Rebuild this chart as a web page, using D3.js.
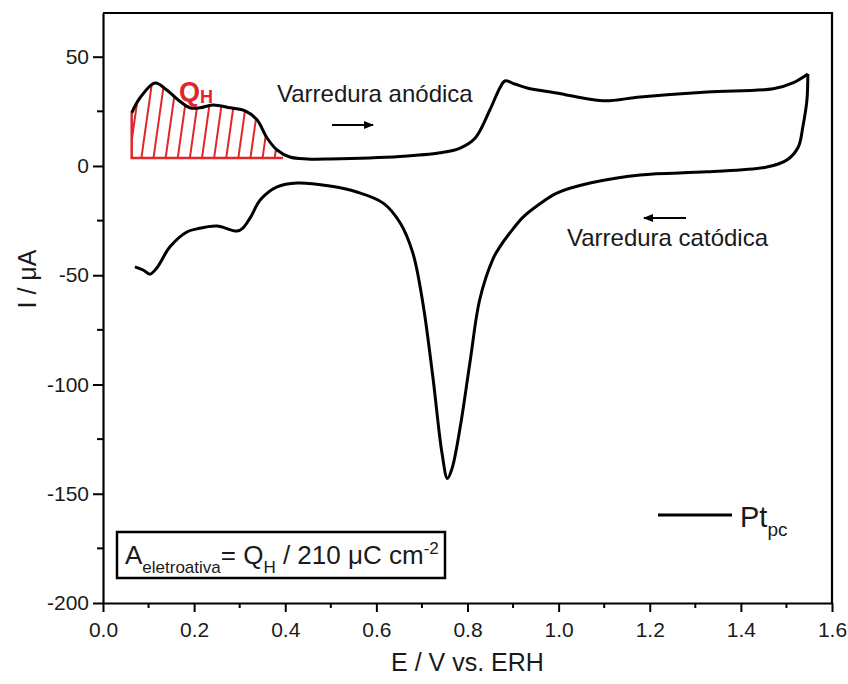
<!DOCTYPE html>
<html>
<head>
<meta charset="utf-8">
<script src="https://cdn.jsdelivr.net/npm/d3@7"></script>
<style>
  body { margin: 0; background: #fff; }
  svg { font-family: "Liberation Sans", Arial, sans-serif; }
</style>
</head>
<body>
<div id="chart"></div>
<script>
// anodic sweep (E in V vs ERH, I in uA)
var anodicE = [0.063, 0.081, 0.114, 0.140, 0.165, 0.191, 0.213, 0.241, 0.279, 0.312, 0.338, 0.360, 0.382, 0.410, 0.448, 0.498,
               0.652, 0.740, 0.784, 0.817, 0.849, 0.871, 0.882, 0.904, 0.931, 0.996, 1.097, 1.179, 1.326, 1.471, 1.514, 1.547];
var anodicI = [24.3, 31.1, 38.0, 34.8, 30.2, 26.6, 26.6, 27.9, 26.6, 25.2, 21.1, 12.8, 7.3, 4.1, 3.2, 3.2,
               4.3, 6.0, 8.2, 12.8, 25.6, 35.7, 38.9, 37.5, 35.7, 33.4, 29.8, 31.6, 33.9, 35.3, 38.0, 42.1];

// cathodic sweep
var cathodicE = [1.547, 1.545, 1.536, 1.526, 1.501, 1.457, 1.326, 1.179, 1.069, 0.996, 0.959, 0.922, 0.900, 0.871, 0.856,
                 0.827, 0.806, 0.784, 0.766, 0.756, 0.744, 0.724, 0.702, 0.680, 0.652, 0.615, 0.557, 0.498, 0.426,
                 0.382, 0.345, 0.324, 0.307, 0.294, 0.250, 0.206, 0.184, 0.147, 0.118, 0.103, 0.088, 0.070];
var cathodicI = [42.1, 30.2, 17.9, 8.7, 2.7, -0.5, -2.7, -4.1, -7.8, -12.4, -17.3, -23.4, -28.8, -37.0, -42.5,
                 -61.0, -89.0, -119.5, -138.5, -143.0, -131.4, -96.6, -62.7, -39.8, -26.0, -17.0, -11.9, -9.2, -7.8,
                 -9.6, -15.6, -23.4, -28.4, -29.8, -27.5, -28.8, -30.2, -37.0, -46.7, -49.5, -47.6, -46.2];

// hydrogen desorption charge region
var qhBase = 3.7;
var qhRange = [0.063, 0.395];

var xTicks = [0, 0.2, 0.4, 0.6, 0.8, 1.0, 1.2, 1.4, 1.6];
var xMinor = [0.1, 0.3, 0.5, 0.7, 0.9, 1.1, 1.3, 1.5];
var yTicks = [50, 0, -50, -100, -150, -200];
var yMinor = [25, -25, -75, -125, -175];

var width = 848, height = 684;
var mLeft = 103, mRight = 832, mTop = 13, mBottom = 603;
var red = '#e0262b';
var ink = '#1a1a1a';

var svg = d3.select('#chart').append('svg')
    .attr('width', width)
    .attr('height', height);

var x = d3.scaleLinear().domain([0, 1.6]).range([mLeft, mRight]);
var y = d3.scaleLinear().domain([-200, 70]).range([mBottom, mTop]);

function zipPts(es, is) {
    return es.map(function(e, k) { return [e, is[k]]; });
}
var anodic = zipPts(anodicE, anodicI);
var cathodic = zipPts(cathodicE, cathodicI);

// hatch pattern for Q_H
var defs = svg.append('defs');
defs.append('pattern')
    .attr('id', 'hatch')
    .attr('patternUnits', 'userSpaceOnUse')
    .attr('width', 12)
    .attr('height', 12)
    .attr('patternTransform', 'rotate(8)')
  .append('line')
    .attr('x1', 6).attr('y1', -1)
    .attr('x2', 6).attr('y2', 13)
    .attr('stroke', red)
    .attr('stroke-width', 2);

var qhPts = anodic.filter(function(d) { return d[0] <= qhRange[1]; });
var area = d3.area()
    .x(function(d) { return x(d[0]); })
    .y0(y(qhBase))
    .y1(function(d) { return y(d[1]); })
    .curve(d3.curveCatmullRom.alpha(0.5));

svg.append('path')
    .datum(qhPts)
    .attr('d', area)
    .attr('fill', 'url(#hatch)');

// left edge + baseline of hatched region
svg.append('path')
    .attr('d', 'M' + x(qhRange[0]) + ',' + y(anodic[0][1]) + 'L' + x(qhRange[0]) + ',' + y(qhBase) + 'L' + x(qhRange[1]) + ',' + y(qhBase))
    .attr('fill', 'none')
    .attr('stroke', red)
    .attr('stroke-width', 2.5);

// axes
var xAxis = svg.append('g').attr('transform', 'translate(0,' + mBottom + ')');
xAxis.call(d3.axisBottom(x).tickValues(xTicks).tickFormat(d3.format('.1f')).tickSize(9).tickSizeOuter(0).tickPadding(10));
xAxis.append('g').selectAll('line').data(xMinor).enter().append('line')
    .attr('x1', function(d) { return x(d); }).attr('x2', function(d) { return x(d); })
    .attr('y1', 0).attr('y2', 5).attr('stroke', '#000').attr('stroke-width', 2);

var yAxis = svg.append('g').attr('transform', 'translate(' + mLeft + ',0)');
yAxis.call(d3.axisLeft(y).tickValues(yTicks).tickFormat(function(d) { return String(d); })
    .tickSize(10).tickSizeOuter(0).tickPadding(4));
yAxis.append('g').selectAll('line').data(yMinor).enter().append('line')
    .attr('y1', function(d) { return y(d); }).attr('y2', function(d) { return y(d); })
    .attr('x1', 0).attr('x2', -6).attr('stroke', '#000').attr('stroke-width', 2);

svg.selectAll('.domain').attr('stroke', '#000').attr('stroke-width', 2.2);
svg.selectAll('.tick line').attr('stroke', '#000').attr('stroke-width', 2);
svg.selectAll('.tick text').attr('font-size', 21).attr('fill', ink)
    .attr('font-family', '"Liberation Sans", Arial, sans-serif');

// frame top/right
svg.append('path')
    .attr('d', 'M' + mLeft + ',' + mTop + 'L' + mRight + ',' + mTop + 'L' + mRight + ',' + mBottom)
    .attr('fill', 'none').attr('stroke', '#000').attr('stroke-width', 2.2);

// CV curve
var line = d3.line()
    .x(function(d) { return x(d[0]); })
    .y(function(d) { return y(d[1]); })
    .curve(d3.curveCatmullRom.alpha(0.5));

[anodic, cathodic].forEach(function(pts) {
    svg.append('path')
        .datum(pts)
        .attr('d', line)
        .attr('fill', 'none')
        .attr('stroke', '#000')
        .attr('stroke-width', 3)
        .attr('stroke-linejoin', 'round');
});

// Q_H label
var qh = svg.append('text').attr('x', 179).attr('y', 101).attr('fill', red).attr('font-weight', 'bold');
qh.append('tspan').attr('font-size', 27).text('Q');
qh.append('tspan').attr('font-size', 18).attr('dy', 2).text('H');

// sweep labels and arrows
defs.append('marker')
    .attr('id', 'arrow')
    .attr('viewBox', '0 0 10 10')
    .attr('refX', 9).attr('refY', 5)
    .attr('markerWidth', 5).attr('markerHeight', 5)
    .attr('markerUnits', 'strokeWidth')
    .attr('orient', 'auto')
  .append('path')
    .attr('d', 'M0,1L10,5L0,9z')
    .attr('fill', '#000');

svg.append('text').attr('x', 277).attr('y', 102).attr('font-size', 24).attr('fill', ink).text('Varredura anódica');
svg.append('line').attr('x1', 332).attr('y1', 125).attr('x2', 373).attr('y2', 125)
    .attr('stroke', '#000').attr('stroke-width', 2).attr('marker-end', 'url(#arrow)');

svg.append('text').attr('x', 567).attr('y', 246).attr('font-size', 24).attr('fill', ink).text('Varredura catódica');
svg.append('line').attr('x1', 686).attr('y1', 218).attr('x2', 644).attr('y2', 218)
    .attr('stroke', '#000').attr('stroke-width', 2).attr('marker-end', 'url(#arrow)');

// legend
svg.append('line').attr('x1', 658).attr('y1', 515).attr('x2', 732).attr('y2', 515)
    .attr('stroke', '#000').attr('stroke-width', 3);
var lg = svg.append('text').attr('x', 740).attr('y', 527).attr('fill', ink);
lg.append('tspan').attr('font-size', 29).text('Pt');
lg.append('tspan').attr('font-size', 19).attr('dy', 9).text('pc');

// formula box
svg.append('rect').attr('x', 117).attr('y', 532).attr('width', 328).attr('height', 46)
    .attr('fill', '#fff').attr('stroke', '#000').attr('stroke-width', 2.5);
var fm = svg.append('text').attr('x', 125).attr('y', 564).attr('fill', ink);
fm.append('tspan').attr('font-size', 26).text('A');
fm.append('tspan').attr('font-size', 17).attr('dy', 9).text('eletroativa');
fm.append('tspan').attr('font-size', 26).attr('dy', -9).text('= Q');
fm.append('tspan').attr('font-size', 17).attr('dy', 9).text('H');
fm.append('tspan').attr('font-size', 26).attr('dy', -9).text(' / 210 \u03bcC cm');
fm.append('tspan').attr('font-size', 17).attr('dy', -10).text('-2');

// axis titles
svg.append('text').attr('x', (mLeft + mRight) / 2).attr('y', 671).attr('text-anchor', 'middle')
    .attr('font-size', 25).attr('fill', ink).text('E / V vs. ERH');
svg.append('text').attr('transform', 'translate(36,279) rotate(-90)')
    .attr('text-anchor', 'middle').attr('font-size', 25).attr('fill', ink).text('I / \u03bcA');
</script>
</body>
</html>
